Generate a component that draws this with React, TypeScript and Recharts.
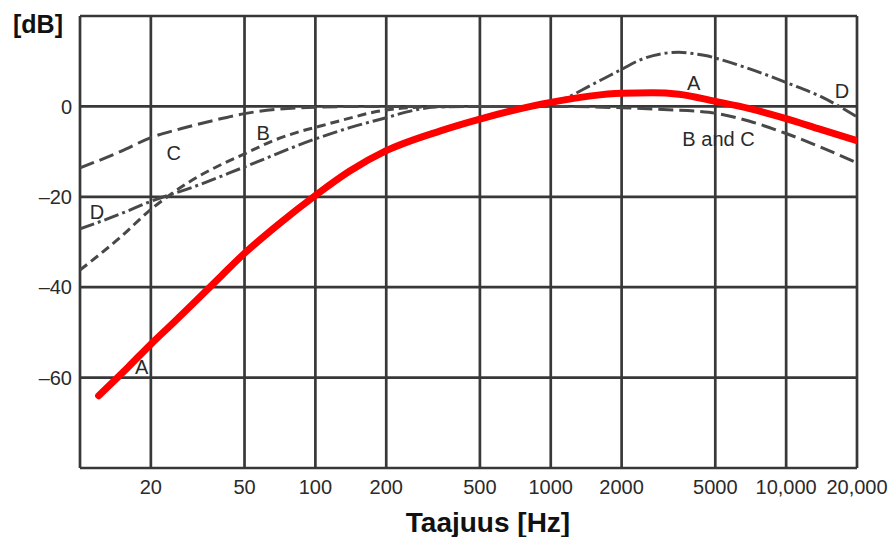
import React from 'react';
import { LineChart, Line, XAxis, YAxis, CartesianGrid, ReferenceDot } from 'recharts';

// Frequencies (Hz) and weighting values (dB)
const freqA = [12, 16, 20, 25, 31.5, 40, 50, 70, 100, 140, 200, 340, 500, 1000, 2000, 2700, 3500, 5000, 7000, 10000, 14000, 20000];
const dbA = [-64, -57.7, -52.6, -47.8, -42.7, -37.4, -32.5, -26, -19.7, -14.3, -9.8, -5.4, -2.8, 0.9, 2.9, 3.0, 2.7, 1.1, -0.5, -2.7, -5.1, -7.6];

const freqB = [10, 14.8, 20, 25, 30, 40, 50, 66, 83, 104, 140, 176, 200, 300, 500, 1000];
const dbB = [-36.2, -29, -22.8, -19, -16.3, -12.8, -10.5, -7.6, -5.8, -4.4, -2.6, -1.3, -0.8, -0.1, 0, 0];

const freqC = [10, 15, 20, 27, 37, 50, 70, 100, 150, 200, 500, 1000, 2000, 3000, 4700, 7000, 10000, 14000, 20000];
const dbC = [-13.6, -9.9, -6.9, -4.9, -3.1, -1.6, -0.6, -0.2, 0, 0, 0, 0, -0.3, -0.7, -1.3, -3.3, -6, -9, -12.5];

const freqD = [10, 15, 20, 30, 50, 100, 140, 200, 260, 330, 500, 800, 1000, 1200, 1470, 1790, 2000, 2400, 3000, 3500, 4000, 4600, 5000, 7000, 10000, 14000, 20000];
const dbD = [-27.1, -23.7, -21, -17.9, -13.4, -7.2, -4.7, -2.5, -0.9, -0.1, 0, 0, 0.6, 2.2, 4.6, 6.9, 8.2, 10.3, 11.7, 12, 11.7, 11.2, 10.7, 8.3, 5.3, 2.2, -2.3];

const xTicks = [10, 20, 50, 100, 200, 500, 1000, 2000, 5000, 10000, 20000];
const yTicks = [-80, -60, -40, -20, 0, 20];
const yLabelled = [-60, -40, -20, 0];

const annText = ['C', 'B', 'D', 'A', 'A', 'B and C', 'D'];
const annFreq = [25, 60, 11.8, 18.3, 4050, 5160, 17250];
const annDb = [-10.3, -5.8, -23.3, -57.7, 5.1, -7.2, 3.4];

const zip = (fs: number[], ds: number[]) => fs.map((f, i) => ({ f, db: ds[i] }));
const dataA = zip(freqA, dbA);
const dataB = zip(freqB, dbB);
const dataC = zip(freqC, dbC);
const dataD = zip(freqD, dbD);

const FONT = '"Liberation Sans", Arial, sans-serif';
const GRAY = '#484848';

const fmtX = (v: number) => (v === 10 ? '' : v >= 10000 ? v.toLocaleString('en-US') : String(v));

const YTick = (props: any) => {
  const { x, y, payload } = props;
  if (!yLabelled.includes(payload.value)) return <g />;
  const s = payload.value < 0 ? '\u2013' + Math.abs(payload.value) : String(payload.value);
  return (
    <text x={x} y={y} dy="0.36em" textAnchor="end" fill="#2a2a2a" fontSize={20} fontFamily={FONT}>
      {s}
    </text>
  );
};

export default function App() {
  return (
    <div style={{ position: 'absolute', left: 0, top: 0, width: 894, height: 537, background: '#fff', fontFamily: FONT }}>
      <LineChart width={894} height={537} margin={{ top: 16, right: 37, bottom: 0, left: 0 }}>
        <CartesianGrid stroke="#383838" strokeWidth={2.7} />
        <XAxis
          dataKey="f"
          type="number"
          scale="log"
          domain={[10, 20000]}
          ticks={xTicks}
          allowDataOverflow
          height={69}
          axisLine={false}
          tickLine={false}
          tickMargin={6}
          tickFormatter={fmtX}
          tick={{ fill: '#2a2a2a', fontSize: 20, fontFamily: FONT }}
          interval={0}
        />
        <YAxis
          type="number"
          domain={[-80, 20]}
          ticks={yTicks}
          width={80}
          axisLine={false}
          tickLine={false}
          tick={<YTick />}
          interval={0}
        />
        <Line data={dataC} dataKey="db" type="monotone" stroke={GRAY} strokeWidth={3} strokeDasharray="15 6" dot={false} isAnimationActive={false} />
        <Line data={dataB} dataKey="db" type="monotone" stroke={GRAY} strokeWidth={3} strokeDasharray="9 5" dot={false} isAnimationActive={false} />
        <Line data={dataD} dataKey="db" type="monotone" stroke={GRAY} strokeWidth={3} strokeDasharray="15 4 3 4" dot={false} isAnimationActive={false} />
        <Line data={dataA} dataKey="db" type="monotone" stroke="#ff0000" strokeWidth={7} strokeLinecap="round" dot={false} isAnimationActive={false} />
        {annText.map((t, i) => (
          <ReferenceDot
            key={i}
            x={annFreq[i]}
            y={annDb[i]}
            r={0}
            fill="none"
            stroke="none"
            label={{ value: t, position: 'center', fill: '#2a2a2a', fontSize: 20, fontFamily: FONT }}
          />
        ))}
      </LineChart>
      <div style={{ position: 'absolute', left: 13, top: 12, fontSize: 25, lineHeight: '25px', fontWeight: 'bold', color: '#111' }}>[dB]</div>
      <div style={{ position: 'absolute', left: 388, width: 200, top: 509, fontSize: 28, lineHeight: '28px', fontWeight: 'bold', color: '#111', textAlign: 'center', whiteSpace: 'nowrap' }}>
        Taajuus [Hz]
      </div>
    </div>
  );
}
